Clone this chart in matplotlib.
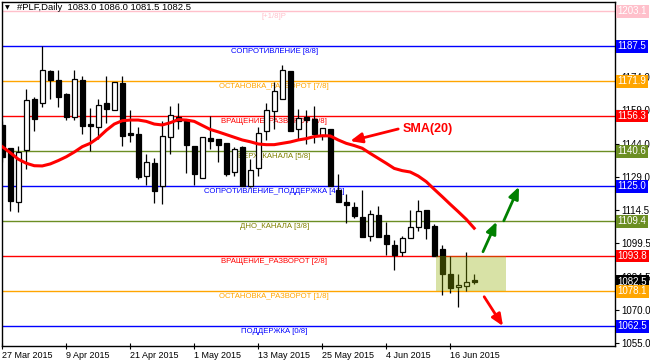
import numpy as np
import matplotlib
matplotlib.use("Agg")
import matplotlib.pyplot as plt
import matplotlib.transforms as mtransforms

plt.rcParams['font.family'] = ['Liberation Sans', 'DejaVu Sans']

# daily OHLC, #PLF 27 Mar 2015 .. 19 Jun 2015
opens = [1152.4, 1142.0, 1118.2, 1141.1, 1163.8, 1162.1, 1176.3, 1172.3, 1166.2, 1155.8,
         1172.3, 1152.7, 1151.6, 1162.2, 1159.2, 1171.1, 1148.7, 1148.4, 1129.8, 1135.3,
         1125.0, 1146.9, 1156.0, 1154.0, 1142.9, 1128.6, 1146.6, 1146.1, 1144.4, 1131.3,
         1142.6, 1125.3, 1133.0, 1149.9, 1158.5, 1163.8, 1176.5, 1150.4, 1156.0, 1154.9,
         1147.3, 1150.6, 1123.5, 1118.0, 1115.6, 1111.2, 1103.0, 1112.2, 1103.3, 1098.8,
         1095.5, 1102.1, 1106.9, 1114.4, 1107.2, 1097.0, 1085.9, 1079.9, 1080.5, 1083.0]
highs = [1154.2, 1142.3, 1143.0, 1168.5, 1164.7, 1187.5, 1176.9, 1176.9, 1166.8, 1176.9,
         1174.3, 1160.0, 1164.0, 1174.3, 1171.4, 1174.3, 1158.9, 1151.3, 1139.6, 1137.8,
         1154.2, 1160.9, 1162.4, 1154.9, 1142.9, 1146.9, 1156.3, 1146.1, 1144.4, 1142.7,
         1143.0, 1137.4, 1151.3, 1162.4, 1171.4, 1179.3, 1176.5, 1159.7, 1158.9, 1160.7,
         1150.9, 1150.6, 1130.4, 1121.4, 1118.0, 1123.2, 1114.6, 1116.1, 1109.1, 1101.0,
         1103.0, 1114.3, 1119.1, 1114.4, 1108.2, 1098.7, 1093.9, 1086.0, 1095.7, 1086.0]
lows = [1136.0, 1114.1, 1113.7, 1132.9, 1149.9, 1160.6, 1164.0, 1160.6, 1154.6, 1154.6,
        1148.4, 1140.8, 1146.3, 1153.4, 1159.2, 1143.0, 1144.8, 1128.4, 1125.8, 1117.7,
        1117.3, 1139.6, 1150.6, 1130.8, 1125.8, 1128.6, 1141.8, 1136.0, 1129.6, 1129.6,
        1125.0, 1124.9, 1129.8, 1145.7, 1150.4, 1163.8, 1149.9, 1145.7, 1143.9, 1144.2,
        1145.7, 1125.2, 1118.2, 1108.8, 1110.7, 1102.5, 1100.7, 1102.5, 1094.4, 1087.7,
        1093.9, 1102.1, 1105.2, 1101.3, 1093.9, 1076.5, 1077.5, 1071.3, 1078.4, 1081.5]
closes = [1137.9, 1118.6, 1140.2, 1163.4, 1155.2, 1176.8, 1172.6, 1165.0, 1155.8, 1172.8,
          1152.1, 1152.1, 1161.2, 1159.7, 1171.4, 1147.6, 1148.1, 1129.3, 1135.7, 1123.1,
          1147.3, 1156.7, 1154.2, 1143.6, 1130.7, 1146.9, 1145.4, 1143.5, 1130.7, 1141.5,
          1125.0, 1132.1, 1148.7, 1158.9, 1167.7, 1176.8, 1149.9, 1155.7, 1154.8, 1148.2,
          1150.9, 1125.2, 1118.2, 1116.5, 1111.9, 1102.5, 1112.5, 1102.5, 1099.3, 1094.4,
          1101.9, 1106.9, 1114.0, 1106.6, 1093.9, 1086.0, 1079.5, 1080.8, 1082.2, 1082.5]
sma20 = [1142.7, 1140.0, 1137.1, 1135.3, 1134.2, 1134.1, 1135.0, 1136.5, 1138.2, 1140.3,
         1142.7, 1144.2, 1146.7, 1150.0, 1152.8, 1154.3, 1154.6, 1154.6, 1154.0, 1152.8,
         1152.4, 1153.4, 1154.8, 1154.6, 1154.0, 1152.2, 1150.4, 1149.3, 1148.1, 1146.9,
         1145.7, 1144.9, 1143.9, 1143.6, 1143.6, 1144.2, 1144.8, 1145.7, 1146.3, 1147.2,
         1147.6, 1147.5, 1145.7, 1144.2, 1143.2, 1142.0, 1139.7, 1137.5, 1135.3, 1133.0,
         1132.0, 1131.4, 1129.6, 1127.1, 1123.7, 1120.4, 1117.0, 1113.7, 1110.3, 1106.3]

date_labels = ["27 Mar 2015", "9 Apr 2015", "21 Apr 2015", "1 May 2015",
               "13 May 2015", "25 May 2015", "4 Jun 2015", "16 Jun 2015"]
date_pos = [0, 8, 16, 24, 32, 40, 48, 56]

# Murrey math levels
level_values = [1203.1, 1187.5, 1171.9, 1156.3, 1140.6, 1125.0, 1109.4, 1093.8, 1078.1, 1062.5]
level_names = ["[+1/8]P", "СОПРОТИВЛЕНИЕ [8/8]", "ОСТАНОВКА_РАЗВОРОТ [7/8]",
               "ВРАЩЕНИЕ_РАЗВОРОТ [6/8]", "ВЕРХ_КАНАЛА [5/8]",
               "СОПРОТИВЛЕНИЕ_ПОДДЕРЖКА [4/8]", "ДНО_КАНАЛА [3/8]",
               "ВРАЩЕНИЕ_РАЗВОРОТ [2/8]", "ОСТАНОВКА_РАЗВОРОТ [1/8]", "ПОДДЕРЖКА [0/8]"]
level_colors = ['pink', 'blue', 'orange', 'red', 'olivedrab', 'blue', 'olivedrab', 'red', 'orange', 'blue']
label_colors = ['pink', 'blue', 'orange', 'red', 'olive', 'blue', 'olive', 'red', 'orange', 'blue']

price_ticks = [1055.0, 1070.0, 1084.5, 1099.5, 1114.5, 1129.0, 1144.0, 1159.0, 1174.0]

zone_x = [54.2, 63.0]
zone_y = [1078.1, 1093.8]

fig = plt.figure(figsize=(6.5, 3.63), dpi=100)
ax = fig.add_axes([0.0026, 0.0468, 0.9435, 0.9477])

x = np.arange(len(closes))
o = np.array(opens)
c = np.array(closes)
up = c > o
bot = np.minimum(o, c)
hgt = np.maximum(np.abs(c - o), 0.4)

for val, col in zip(level_values, level_colors):
    ax.axhline(val, color=col, lw=1, zorder=2)
for val, name, col in zip(level_values, level_names, label_colors):
    ax.annotate(name, xy=(34, val), xytext=(0, -1.5), textcoords='offset points',
                ha='center', va='top', fontsize=5.6, color=col, zorder=1)

ax.vlines(x, lows, highs, color='black', lw=0.9, zorder=3)
ax.bar(x[up], hgt[up], bottom=bot[up], width=0.6, color='white', edgecolor='black', lw=0.9, zorder=4)
ax.bar(x[~up], hgt[~up], bottom=bot[~up], width=0.6, color='black', edgecolor='black', lw=0.9, zorder=4)

ax.plot(x, sma20, color='red', lw=2.2, zorder=5)

ax.fill_between(zone_x, zone_y[0], zone_y[1], color=(0.57, 0.68, 0.0), alpha=0.35, lw=0, zorder=6)

# annotations
ax.annotate('', xy=(43.5, 1145.2), xytext=(49.5, 1150.6),
            arrowprops=dict(arrowstyle='-|>,head_length=0.7,head_width=0.3', color='red', lw=2,
                            shrinkA=0, shrinkB=0), zorder=7)
ax.text(50.0, 1150.6, "SMA(20)", color='red', fontsize=9, fontweight='bold', ha='left', va='center', zorder=7)
for tail, head, col in [((60.1, 1095.8), (61.8, 1109.2), 'green'),
                        ((62.7, 1109.6), (64.6, 1124.8), 'green'),
                        ((60.25, 1075.7), (62.6, 1062.6), 'red')]:
    ax.annotate('', xy=head, xytext=tail,
                arrowprops=dict(arrowstyle='-|>,head_length=0.7,head_width=0.3', color=col, lw=2,
                                shrinkA=0, shrinkB=0), zorder=7)

ax.set_xlim(-0.075, 76.6)
ax.set_ylim(1053.7, 1207.3)

ax.set_xticks(date_pos)
ax.set_xticklabels(date_labels, fontsize=6.5, ha='left')
ax.tick_params(axis='x', direction='inout', length=4, pad=1.5, width=0.8)
ax.yaxis.tick_right()
ax.set_yticks(price_ticks)
ax.set_yticklabels(["%.1f" % v for v in price_ticks], fontsize=7)
ax.tick_params(axis='y', direction='out', length=3, pad=1.5, width=0.8)
for s in ax.spines.values():
    s.set_linewidth(1)

# coloured price boxes on the right scale (current price first, levels on top)
trans = mtransforms.blended_transform_factory(ax.transAxes, ax.transData)
box_values = [closes[-1]] + level_values
box_colors = ['black'] + level_colors
for val, col in zip(box_values, box_colors):
    ax.annotate("%.1f" % val, xy=(1.0, val), xycoords=trans, xytext=(2.0, 0), textcoords='offset points',
                ha='left', va='center', fontsize=7, color='white', annotation_clip=False,
                bbox=dict(boxstyle='square,pad=0.13', fc=col, ec='none'), zorder=10)

fig.text(5 / 650, 1 - 8 / 363, "▼", fontsize=4.5, family='DejaVu Sans', va='center', ha='left')
fig.text(17 / 650, 1 - 7.5 / 363, "#PLF,Daily  1083.0 1086.0 1081.5 1082.5", fontsize=6.8,
         va='center', ha='left')

fig.savefig("out.png", dpi=100)
